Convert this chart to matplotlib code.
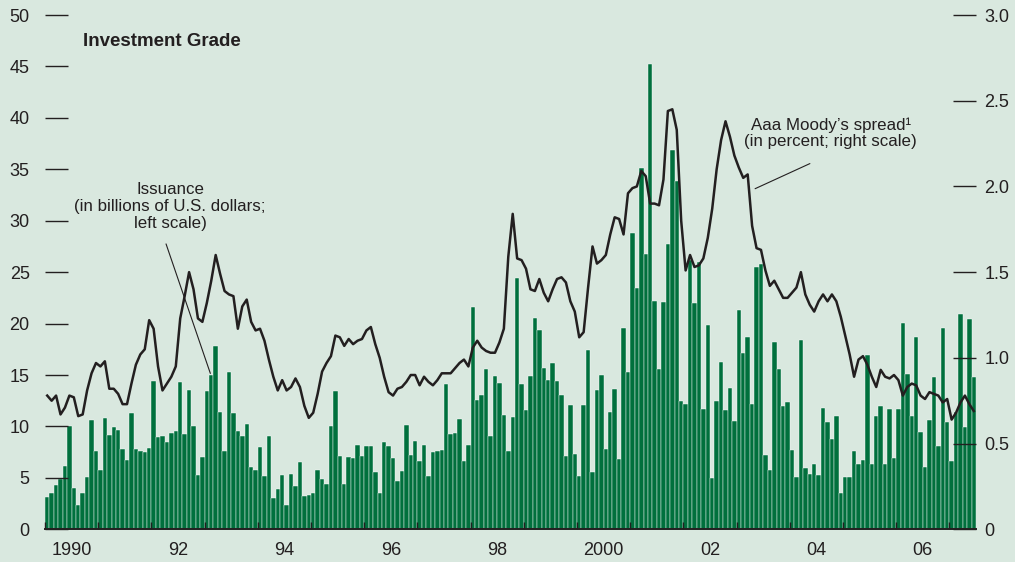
import numpy as np
import matplotlib.pyplot as plt

plt.rcParams['font.family'] = ['Liberation Sans Narrow', 'Liberation Sans', 'DejaVu Sans']

# monthly investment-grade issuance, billions of U.S. dollars (Jan 1990 - Jun 2007)
issuance = [
    3.1, 3.5, 4.3, 4.9, 6.2, 10.0, 4.0, 2.4, 3.5, 5.1, 10.6, 7.6,        # 1990
    5.8, 10.8, 9.2, 9.9, 9.7, 7.8, 6.7, 11.3, 7.8, 7.6, 7.5, 7.9,        # 1991
    14.4, 9.0, 9.1, 8.5, 9.4, 9.6, 14.3, 9.3, 13.5, 10.0, 5.3, 7.0,      # 1992
    13.4, 15.0, 17.8, 11.4, 7.6, 15.3, 11.3, 9.6, 9.1, 10.2, 6.1, 5.8,   # 1993
    8.0, 5.2, 9.1, 3.0, 3.9, 5.3, 2.4, 5.4, 4.2, 6.5, 3.2, 3.3,          # 1994
    3.5, 5.8, 4.9, 4.4, 10.0, 13.4, 7.1, 4.4, 7.0, 6.9, 8.2, 7.1,        # 1995
    8.1, 8.1, 5.6, 3.5, 8.5, 8.1, 6.9, 4.7, 5.7, 10.1, 7.2, 8.6,         # 1996
    6.6, 8.2, 5.2, 7.5, 7.6, 7.7, 14.1, 9.3, 9.4, 10.7, 6.6, 8.2,        # 1997
    21.6, 12.6, 13.1, 15.6, 9.1, 14.9, 14.2, 11.1, 7.6, 10.9, 24.4, 14.1,  # 1998
    11.6, 14.9, 20.5, 19.4, 15.7, 14.5, 16.2, 14.4, 13.1, 7.1, 12.1, 7.3,  # 1999
    5.2, 12.1, 17.4, 5.6, 13.5, 15.0, 7.8, 11.4, 13.6, 6.8, 19.6, 15.3,    # 2000
    28.8, 23.5, 35.1, 26.8, 45.2, 22.2, 15.6, 22.1, 27.7, 36.9, 33.9, 12.5,  # 2001
    12.2, 26.2, 22.0, 26.0, 11.7, 19.9, 5.0, 12.5, 16.3, 11.6, 13.7, 10.5,   # 2002
    21.3, 17.1, 18.7, 12.2, 25.5, 25.8, 7.2, 5.8, 18.2, 15.6, 12.0, 12.4,    # 2003
    7.7, 5.1, 18.4, 6.0, 5.4, 6.3, 5.3, 11.8, 10.4, 8.8, 11.0, 3.5,          # 2004
    5.1, 5.1, 7.6, 6.3, 6.7, 16.9, 6.3, 11.0, 12.0, 6.3, 11.7, 6.9,          # 2005
    11.7, 20.1, 15.1, 11.0, 18.7, 9.5, 6.1, 10.6, 14.8, 8.1, 19.6, 10.4,     # 2006
    6.6, 11.4, 20.9, 9.9, 20.4, 14.8,                                        # 2007
]

# Aaa Moody's spread, percent
spread = [
    0.78, 0.75, 0.78, 0.67, 0.71, 0.78, 0.77, 0.66, 0.67, 0.81, 0.91, 0.97,
    0.95, 0.98, 0.82, 0.82, 0.79, 0.73, 0.73, 0.85, 0.96, 1.02, 1.05, 1.22,
    1.17, 0.95, 0.81, 0.85, 0.89, 0.95, 1.23, 1.36, 1.50, 1.40, 1.23, 1.21,
    1.32, 1.45, 1.60, 1.49, 1.39, 1.37, 1.36, 1.17, 1.30, 1.34, 1.21, 1.16,
    1.17, 1.10, 0.99, 0.89, 0.81, 0.87, 0.81, 0.83, 0.88, 0.83, 0.72, 0.65,
    0.68, 0.79, 0.92, 0.97, 1.01, 1.13, 1.12, 1.07, 1.11, 1.08, 1.10, 1.11,
    1.16, 1.18, 1.08, 1.00, 0.89, 0.80, 0.78, 0.82, 0.83, 0.86, 0.90, 0.90,
    0.84, 0.89, 0.86, 0.84, 0.87, 0.91, 0.91, 0.91, 0.94, 0.97, 0.99, 0.95,
    1.06, 1.10, 1.06, 1.04, 1.03, 1.03, 1.09, 1.17, 1.59, 1.84, 1.58, 1.57,
    1.52, 1.40, 1.39, 1.46, 1.38, 1.33, 1.40, 1.46, 1.47, 1.44, 1.33, 1.27,
    1.12, 1.15, 1.41, 1.65, 1.55, 1.57, 1.60, 1.72, 1.82, 1.81, 1.72, 1.96,
    1.99, 2.00, 2.09, 2.06, 1.90, 1.90, 1.89, 2.04, 2.44, 2.45, 2.33, 1.80,
    1.51, 1.60, 1.53, 1.54, 1.58, 1.70, 1.87, 2.10, 2.27, 2.38, 2.29, 2.18,
    2.11, 2.05, 2.07, 1.77, 1.64, 1.63, 1.51, 1.42, 1.45, 1.40, 1.35, 1.35,
    1.38, 1.41, 1.50, 1.37, 1.31, 1.27, 1.33, 1.37, 1.33, 1.37, 1.33, 1.24,
    1.13, 1.02, 0.89, 0.99, 1.01, 0.96, 0.89, 0.83, 0.93, 0.89, 0.88, 0.90,
    0.87, 0.78, 0.83, 0.85, 0.84, 0.78, 0.76, 0.80, 0.79, 0.78, 0.74, 0.76,
    0.64, 0.68, 0.74, 0.78, 0.73, 0.69,
]

year_labels = ['1990', '92', '94', '96', '98', '2000', '02', '04', '06']
left_ticks = list(range(0, 51, 5))
right_ticks = [0, 0.5, 1.0, 1.5, 2.0, 2.5, 3.0]
right_labels = ['0', '0.5', '1.0', '1.5', '2.0', '2.5', '3.0']

bg = '#d9e8df'
green = '#00703d'
dark = '#231f20'

W, H = 1015, 562
fig = plt.figure(figsize=(W / 100, H / 100), dpi=100, facecolor=bg)
ax = fig.add_axes([45 / W, 32.7 / H, (976 - 45) / W, (529.3 - 15) / H])
ax.set_facecolor(bg)

n = len(issuance)
months = np.arange(n) + 0.5
ax.bar(months, issuance, width=1.0, color=green, edgecolor='white', linewidth=0.3)
ax.set_xlim(0, n)
ax.set_ylim(0, 50)

ax2 = ax.twinx()
ax2.plot(months[:len(spread)], spread, color=dark, lw=1.8)
ax2.set_ylim(0, 3.0)

for a in (ax, ax2):
    for s in a.spines.values():
        s.set_visible(False)
ax.spines['bottom'].set_visible(True)
ax.spines['bottom'].set_color(dark)
ax.spines['bottom'].set_linewidth(1.4)

ax.set_yticks(left_ticks)
ax.tick_params(axis='y', direction='in', length=16.5, width=1, color=dark,
               pad=11, labelsize=13, labelcolor=dark)
ax2.set_yticks(right_ticks)
ax2.set_yticklabels(right_labels)
ax2.tick_params(axis='y', direction='in', length=16.5, width=1, color=dark,
                pad=6, labelsize=13, labelcolor=dark)

# year boundaries as ticks, labels centred in even years
ax.set_xticks(np.arange(0, n, 12))
ax.set_xticklabels([])
ax.set_xticks(np.arange(6, 12 * 2 * len(year_labels), 24), minor=True)
ax.set_xticklabels(year_labels, minor=True)
ax.tick_params(axis='x', which='major', direction='in', length=5, width=1, color=dark)
ax.tick_params(axis='x', which='minor', length=0, pad=9, labelsize=13, labelcolor=dark)

fig.text(83 / W, 1 - 41 / H, 'Investment Grade', fontsize=13.5, fontweight='bold',
         color=dark, va='center', ha='left')

ax.text(28.2, 31.4, 'Issuance\n(in billions of U.S. dollars;\nleft scale)',
        ha='center', va='center', fontsize=12.2, color=dark, linespacing=1.15)
ax.annotate('', xy=(37.5, 14.9), xytext=(27.1, 28.0),
            arrowprops=dict(arrowstyle='-', color=dark, lw=0.8))

ax2.text(177.2, 2.31, 'Aaa Moody\u2019s spread\u00b9\n(in percent; right scale)',
         ha='center', va='center', fontsize=12.2, color=dark, linespacing=1.15)
ax2.annotate('', xy=(159.6, 1.98), xytext=(173.1, 2.14),
             arrowprops=dict(arrowstyle='-', color=dark, lw=0.8))

fig.savefig('out.png', dpi=100, facecolor=bg)
